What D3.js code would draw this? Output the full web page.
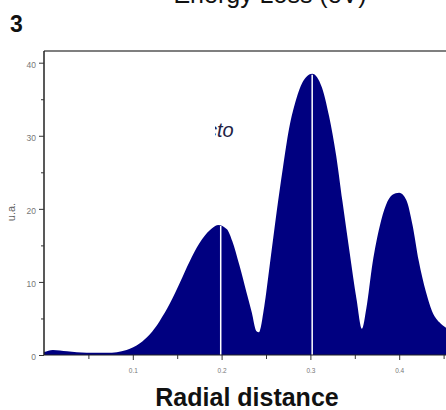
<!DOCTYPE html>
<html>
<head>
<meta charset="utf-8">
<script src="https://cdn.jsdelivr.net/npm/d3@7"></script>
<style>
  body { margin: 0; background: #fff; }
  svg { display: block; font-family: Arial, "Liberation Sans", sans-serif; }
</style>
</head>
<body>
<svg width="446" height="410"></svg>
<script>
// radial distance (x) and intensity in u.a. (y)
var radial = [0.000, 0.010, 0.026, 0.048, 0.071, 0.093, 0.108, 0.119, 0.130, 0.142,
              0.153, 0.164, 0.175, 0.187, 0.196, 0.206, 0.212, 0.220, 0.228, 0.234,
              0.239, 0.242, 0.248, 0.254, 0.262, 0.269, 0.276, 0.284, 0.291, 0.302,
              0.313, 0.321, 0.329, 0.336, 0.344, 0.352, 0.358, 0.363, 0.370, 0.378,
              0.385, 0.392, 0.400, 0.408, 0.415, 0.422, 0.430, 0.437, 0.445, 0.453];
var intensity = [0.4, 0.7, 0.5, 0.3, 0.3, 0.7, 1.6, 2.8, 4.6, 7.1,
                 9.9, 12.8, 15.3, 17.1, 17.8, 17.2, 15.6, 12.3, 8.6, 5.8,
                 3.3, 3.1, 6.6, 12.1, 19.6, 25.6, 31.0, 35.0, 37.3, 38.5,
                 36.6, 32.7, 27.3, 21.1, 14.2, 7.6, 3.6, 6.4, 12.6, 17.6,
                 20.5, 21.9, 22.2, 21.2, 17.8, 12.9, 8.7, 6.0, 4.5, 3.7];
var peakX = [0.199, 0.302];
var peakY = [17.8, 38.5];

var xMajor = [0.1, 0.2, 0.3, 0.4];
var xMinor = [0.05, 0.15, 0.25, 0.35, 0.45];
var yMajor = [0, 10, 20, 30, 40];
var yMinor = [5, 15, 25, 35];

var data = radial.map((r, i) => ({ x: r, y: intensity[i] }));

var svg = d3.select("svg");
var x = d3.scaleLinear().domain([0, 0.4527]).range([44, 446]);
var y = d3.scaleLinear().domain([0, 41.6]).range([355, 51]);

// filled profile
var area = d3.area()
    .x(d => x(d.x))
    .y0(y(0))
    .y1(d => y(d.y))
    .curve(d3.curveMonotoneX);

svg.append("path")
    .datum(data)
    .attr("d", area)
    .attr("fill", "#000080");

// white lines at the peaks
svg.selectAll(".peak")
    .data(peakX)
    .enter().append("line")
    .attr("x1", d => x(d)).attr("x2", d => x(d))
    .attr("y1", y(0))
    .attr("y2", (d, i) => y(peakY[i]) + 1)
    .attr("stroke", "#fff")
    .attr("stroke-width", 1.5);

// frame top
svg.append("line")
    .attr("x1", 44).attr("x2", 446)
    .attr("y1", 51).attr("y2", 51)
    .attr("stroke", "#555").attr("stroke-width", 1.5);

// x axis
var xAxis = svg.append("g").attr("transform", `translate(0,${y(0)})`)
    .call(d3.axisBottom(x).tickValues(xMajor).tickSize(5).tickFormat(d3.format(".1f")));
xAxis.select(".domain").remove();
xAxis.selectAll("line").attr("stroke", "#333");
xAxis.selectAll("text").attr("fill", "#777").attr("font-size", 6.5).attr("dy", "1.5em");
svg.append("g").attr("transform", `translate(0,${y(0)})`)
    .call(d3.axisBottom(x).tickValues(xMinor).tickSize(4).tickFormat(""))
    .call(g => g.select(".domain").remove())
    .selectAll("line").attr("stroke", "#333");

// y axis
var yAxis = svg.append("g").attr("transform", "translate(44,0)")
    .call(d3.axisLeft(y).tickValues(yMajor).tickSize(5).tickPadding(3));
yAxis.select(".domain").attr("d", `M0,${y(0)}V51`).attr("stroke", "#222").attr("stroke-width", 1.5);
yAxis.selectAll("line").attr("stroke", "#333");
yAxis.selectAll("text").attr("fill", "#777").attr("font-size", 8.5).attr("dy", "0.55em");
svg.append("g").attr("transform", "translate(44,0)")
    .call(d3.axisLeft(y).tickValues(yMinor).tickSize(3).tickFormat(""))
    .call(g => g.select(".domain").remove())
    .selectAll("line").attr("stroke", "#333");

// bottom x-axis line
svg.append("line")
    .attr("x1", 44).attr("x2", 446)
    .attr("y1", y(0)).attr("y2", y(0))
    .attr("stroke", "#222").attr("stroke-width", 1);

// labels
svg.append("text")
    .attr("transform", "translate(15,212) rotate(-90)")
    .attr("text-anchor", "middle")
    .attr("fill", "#666").attr("font-size", 11)
    .text("u.a.");

svg.append("text")
    .attr("x", 247).attr("y", 406)
    .attr("text-anchor", "middle")
    .attr("font-size", 25).attr("font-weight", "bold").attr("fill", "#111")
    .text("Radial distance");

svg.append("text")
    .attr("x", 270).attr("y", 3)
    .attr("text-anchor", "middle")
    .attr("font-size", 25).attr("fill", "#111")
    .text("Energy Loss (eV)");

svg.append("text")
    .attr("x", 10).attr("y", 32)
    .attr("font-size", 23).attr("font-weight", "bold").attr("fill", "#111")
    .text("3");

// partly hidden italic word inside the plot
svg.append("clipPath").attr("id", "cut")
    .append("rect").attr("x", 215).attr("y", 100).attr("width", 60).attr("height", 50);
svg.append("text")
    .attr("x", 207).attr("y", 137)
    .attr("clip-path", "url(#cut)")
    .attr("font-size", 20).attr("font-style", "italic").attr("fill", "#222244")
    .text("cto");
</script>
</body>
</html>
